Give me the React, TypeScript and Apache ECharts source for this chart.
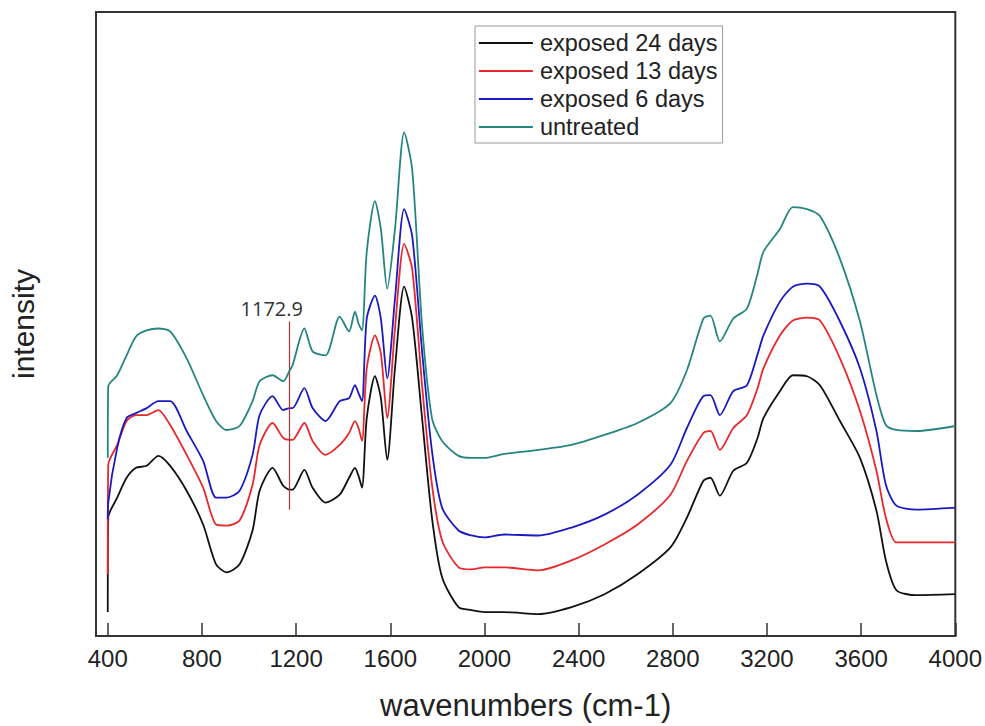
import React, { useEffect, useRef } from "react";
import * as echarts from "echarts";

const wavenumbers = [
  400, 402, 440, 480, 520, 565, 615, 665, 735, 805, 860, 905, 960, 1015, 1045, 1100, 1145, 1173, 1185,
  1235, 1270, 1325, 1385, 1425, 1450, 1465, 1480, 1500, 1535, 1560, 1587, 1620, 1659, 1693, 1735, 1777,
  1820, 1890, 1945, 2000, 2085, 2230, 2370, 2510, 2650, 2790, 2860, 2930, 2960, 3000, 3057, 3115, 3160,
  3185, 3255, 3310, 3370, 3425, 3510, 3595, 3665, 3705, 3750, 3835, 4000,
];

const exposed24 = [
  2.4, 11.9, 13.9, 15.9, 16.9, 17.1, 18.1, 17.1, 14.6, 11.2, 7.2, 6.4, 7.2, 10.6, 14.6, 16.9, 15.1, 14.7, 14.7,
  16.7, 14.9, 13.4, 14.2, 15.9, 16.9, 16.1, 14.9, 21.9, 26.1, 23.9, 17.7, 26.9, 35.1, 31.9, 21.9, 11.9,
  5.9, 2.9, 2.6, 2.4, 2.4, 2.2, 2.9, 4.2, 6.2, 8.9, 11.9, 15.6, 15.9, 14.1, 16.6, 17.4, 19.9,
  21.9, 24.6, 26.2, 26.1, 25.2, 21.6, 17.9, 12.6, 7.6, 4.6, 4.1, 4.2,
];

const exposed13 = [
  6.2, 17.2, 19.2, 21.6, 22.2, 22.2, 22.7, 21.2, 18.2, 14.9, 11.2, 11.1, 11.6, 15.2, 19.2, 21.4, 19.9, 19.7, 19.7,
  21.4, 19.6, 18.2, 19.2, 20.4, 21.6, 20.9, 19.6, 26.9, 30.2, 28.4, 21.9, 30.9, 39.4, 36.9, 25.2, 15.2,
  9.6, 6.9, 6.7, 6.9, 6.9, 6.6, 7.6, 9.2, 11.2, 14.2, 17.6, 20.4, 20.6, 18.7, 20.9, 22.2, 24.9,
  26.9, 30.2, 31.7, 32.0, 31.7, 27.9, 22.6, 16.6, 11.9, 9.4, 9.4, 9.4,
];

const exposed6 = [
  11.7, 13.4, 18.9, 21.9, 22.4, 22.9, 23.6, 23.6, 20.6, 17.6, 13.9, 13.9, 14.6, 18.2, 22.2, 24.1, 22.7, 22.9, 22.9,
  24.9, 22.9, 21.6, 23.6, 23.9, 25.2, 24.4, 23.6, 31.9, 34.2, 31.9, 25.9, 33.9, 42.9, 40.2, 28.6, 18.6,
  12.9, 10.6, 10.1, 9.9, 10.2, 10.1, 10.9, 12.2, 14.2, 17.2, 20.9, 24.1, 24.2, 22.2, 24.6, 25.2, 28.3,
  30.2, 33.6, 35.1, 35.4, 35.1, 31.6, 26.9, 20.6, 15.2, 13.1, 12.7, 12.9,
];

const untreated = [
  17.9, 25.1, 26.2, 28.2, 30.1, 30.7, 30.9, 30.6, 27.9, 24.2, 21.6, 20.7, 21.1, 23.6, 25.6, 26.2, 25.6, 26.7, 27.2,
  30.9, 28.6, 28.2, 32.1, 30.6, 32.6, 31.4, 30.7, 38.6, 43.7, 40.9, 34.9, 40.9, 50.6, 46.9, 31.2, 21.9,
  19.6, 18.1, 17.9, 17.9, 18.3, 18.7, 19.2, 20.2, 21.4, 23.4, 26.7, 31.9, 32.2, 29.6, 31.9, 32.9, 36.4,
  38.6, 40.9, 43.1, 42.9, 42.2, 37.9, 31.6, 24.2, 21.2, 20.7, 20.6, 21.1,
];

const seriesNames = ["exposed 24 days", "exposed 13 days", "exposed 6 days", "untreated"];
const seriesColors = ["#111111", "#e8282c", "#1a1ac0", "#25857f"];
const tickValues = [400, 800, 1200, 1600, 2000, 2400, 2800, 3200, 3600, 4000];
const markerWavenumber = 1172.9;
const markerRange = [12.7, 31.6];

const FONT = "'Liberation Sans', Arial, sans-serif";

export default function App() {
  const ref = useRef<HTMLDivElement>(null);

  useEffect(() => {
    if (!ref.current) return;
    const chart = echarts.init(ref.current, undefined, { renderer: "svg" });
    const all = [exposed24, exposed13, exposed6, untreated];
    const series: any[] = all.map((vals, i) => ({
      name: seriesNames[i],
      type: "line",
      data: wavenumbers.map((w, j) => [w, vals[j]]),
      symbol: "none",
      showSymbol: false,
      smooth: 0.25,
      lineStyle: { color: seriesColors[i], width: 1.8 },
      itemStyle: { color: seriesColors[i] },
      z: 2 + i,
    }));
    series[0].markLine = {
      silent: true,
      symbol: ["none", "none"],
      lineStyle: { color: "#b8323a", width: 1.2, type: "solid" },
      label: {
        show: true,
        position: "end",
        formatter: String(markerWavenumber),
        fontFamily: "'Open Sans', 'DejaVu Sans', sans-serif",
        fontSize: 20,
        color: "#333",
        offset: [-18, 2],
      },
      data: [
        [
          { coord: [markerWavenumber, markerRange[0]] },
          { coord: [markerWavenumber, markerRange[1]] },
        ],
      ],
    };

    chart.setOption({
      animation: false,
      backgroundColor: "#fff",
      textStyle: { fontFamily: FONT },
      grid: {
        left: 92,
        right: 28,
        top: 12,
        bottom: 87,
        show: true,
        borderColor: "#333",
        borderWidth: 2,
        backgroundColor: "transparent",
      },
      legend: {
        orient: "vertical",
        left: 475,
        top: 26,
        padding: [5, 5, 4, 3],
        itemGap: 4,
        itemWidth: 54,
        itemHeight: 14,
        borderColor: "#999",
        borderWidth: 1,
        backgroundColor: "#fff",
        itemStyle: { opacity: 0, borderWidth: 0 },
        lineStyle: { width: 1.8 },
        textStyle: { fontSize: 23.5, color: "#222", fontFamily: FONT, padding: [0, 0, 0, 2] },
        data: seriesNames,
      },
      xAxis: {
        type: "value",
        min: 350,
        max: 4000,
        name: "wavenumbers (cm-1)",
        nameLocation: "middle",
        nameGap: 54,
        nameTextStyle: { fontSize: 31, color: "#222", fontFamily: FONT },
        axisLine: { show: true, lineStyle: { color: "#333", width: 2 } },
        axisTick: {
          show: true,
          inside: true,
          length: 13,
          customValues: tickValues,
          lineStyle: { color: "#333", width: 1.5 },
        },
        axisLabel: {
          show: true,
          customValues: tickValues,
          formatter: (v: number) => String(v),
          fontSize: 24,
          color: "#222",
          margin: 10,
          fontFamily: FONT,
        },
        splitLine: { show: false },
      },
      yAxis: {
        type: "value",
        min: 0,
        max: 62.7,
        name: "intensity",
        nameLocation: "middle",
        nameGap: 58,
        nameTextStyle: { fontSize: 30, color: "#222", fontFamily: FONT },
        axisLine: { show: false },
        axisTick: { show: false },
        axisLabel: { show: false },
        splitLine: { show: false },
      },
      series,
    });
    return () => chart.dispose();
  }, []);

  return (
    <div
      ref={ref}
      style={{ position: "absolute", left: 0, top: 0, width: 985, height: 726, background: "#fff" }}
    />
  );
}
